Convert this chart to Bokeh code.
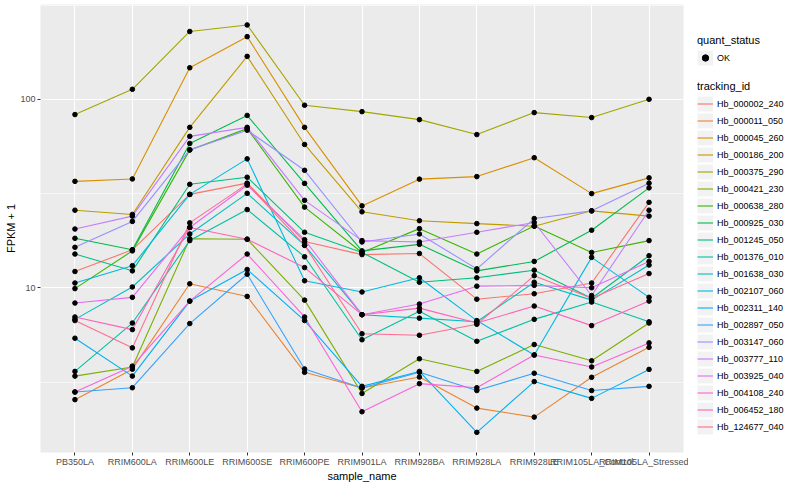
from bokeh.plotting import figure
from bokeh.models import (FactorRange, Range1d, FixedTicker, PrintfTickFormatter,
                          Legend, LegendItem)
from bokeh.layouts import row
from bokeh.embed import file_html
from bokeh.resources import INLINE

samples = ["PB350LA", "RRIM600LA", "RRIM600LE", "RRIM600SE", "RRIM600PE", "RRIM901LA",
           "RRIM928BA", "RRIM928LA", "RRIM928LE", "RRIM105LA_Control", "RRIM105LA_Stressed"]

Hb_000002_240 = [12.2, 15.9, 31.3, 35.9, 17.6, 15.0, 15.2, 8.7, 9.3, 10.6, 28.4]
Hb_000011_050 = [2.55, 3.7, 10.5, 9.0, 3.56, 2.94, 3.36, 2.3, 2.06, 3.35, 4.83]
Hb_000045_260 = [36.7, 37.8, 147, 215, 71, 27.2, 37.7, 38.9, 49, 31.6, 38.3]
Hb_000186_200 = [25.8, 24.5, 71, 169, 57.6, 25.3, 22.7, 21.9, 21.2, 25.6, 24.0]
Hb_000375_290 = [83, 113, 229, 248, 93, 86, 78, 65, 85, 80, 100]
Hb_000421_230 = [3.4, 3.8, 18.2, 18.1, 8.6, 2.75, 4.2, 3.6, 5.0, 4.1, 6.5]
Hb_000638_280 = [9.9, 15.7, 53.9, 69.9, 26.8, 15.4, 20.6, 15.1, 21.3, 15.4, 17.8]
Hb_000925_030 = [18.3, 15.9, 58.3, 82.1, 35.8, 15.7, 17.0, 12.3, 13.8, 20.2, 33.9]
Hb_001245_050 = [15.1, 12.3, 35.4, 38.6, 19.7, 15.4, 10.7, 11.3, 12.4, 8.8, 14.8]
Hb_001376_010 = [3.6, 6.5, 17.8, 26.0, 14.6, 5.3, 7.5, 5.2, 6.8, 8.4, 6.6]
Hb_001638_030 = [6.8, 10.1, 19.3, 31.7, 16.8, 7.2, 6.9, 6.6, 10.7, 8.6, 13.2]
Hb_002107_060 = [10.6, 13.1, 31.3, 48.3, 10.9, 9.5, 11.3, 6.7, 4.4, 14.5, 8.9]
Hb_002311_140 = [5.4, 3.4, 8.5, 12.5, 6.7, 3.0, 3.6, 1.71, 3.18, 2.59, 3.69]
Hb_002897_050 = [2.8, 2.95, 6.46, 11.8, 3.71, 2.94, 3.56, 2.85, 3.52, 2.85, 3.0]
Hb_003147_060 = [16.4, 22.5, 53.9, 68.5, 42.0, 17.5, 19.3, 12.6, 23.3, 25.6, 35.9]
Hb_003777_110 = [20.5, 24.0, 63.6, 71.0, 29.1, 17.8, 17.5, 19.7, 22.2, 9.1, 25.8]
Hb_003925_040 = [8.3, 8.9, 20.9, 35.0, 18.0, 7.2, 8.2, 10.2, 10.3, 10.0, 13.8]
Hb_004108_240 = [2.8, 3.84, 8.5, 15.1, 7.0, 2.2, 3.1, 2.95, 4.4, 3.8, 5.1]
Hb_006452_180 = [7.0, 6.0, 20.9, 18.1, 12.8, 7.2, 7.8, 6.5, 8.0, 6.3, 8.5]
Hb_124677_040 = [6.7, 4.8, 22.1, 35.6, 16.8, 5.7, 5.6, 6.4, 11.6, 8.8, 11.9]

tracking_ids = ["Hb_000002_240", "Hb_000011_050", "Hb_000045_260", "Hb_000186_200",
                "Hb_000375_290", "Hb_000421_230", "Hb_000638_280", "Hb_000925_030",
                "Hb_001245_050", "Hb_001376_010", "Hb_001638_030", "Hb_002107_060",
                "Hb_002311_140", "Hb_002897_050", "Hb_003147_060", "Hb_003777_110",
                "Hb_003925_040", "Hb_004108_240", "Hb_006452_180", "Hb_124677_040"]
series = [Hb_000002_240, Hb_000011_050, Hb_000045_260, Hb_000186_200, Hb_000375_290,
          Hb_000421_230, Hb_000638_280, Hb_000925_030, Hb_001245_050, Hb_001376_010,
          Hb_001638_030, Hb_002107_060, Hb_002311_140, Hb_002897_050, Hb_003147_060,
          Hb_003777_110, Hb_003925_040, Hb_004108_240, Hb_006452_180, Hb_124677_040]
palette = ["#F8766D", "#EA8331", "#D89000", "#C09B00", "#A3A500", "#7CAE00", "#39B600",
           "#00BB4E", "#00BF7D", "#00C1A3", "#00BFC4", "#00BAE0", "#00B0F6", "#35A2FF",
           "#9590FF", "#C77CFF", "#E76BF3", "#FA62DB", "#FF62BC", "#FF6C91"]
status = ["OK"]

FONT = "Liberation Sans"
H = 484
MAIN_W = 688
LEG_W = 96

p = figure(width=MAIN_W, height=H,
           x_range=FactorRange(factors=samples, range_padding=0.1, range_padding_units="absolute"),
           y_range=Range1d(1.337, 318.4), y_axis_type="log",
           toolbar_location=None, output_backend="svg",
           min_border_left=40, min_border_right=5, min_border_top=4, min_border_bottom=0,
           background_fill_color="#EBEBEB", border_fill_color="white", outline_line_color=None)

for ax in (p.xaxis[0], p.yaxis[0]):
    ax.axis_line_color = None
    ax.major_tick_line_color = "#333333"
    ax.major_tick_line_width = 1
    ax.major_tick_out = 3
    ax.major_tick_in = 0
    ax.minor_tick_line_color = None
    ax.major_label_text_font = FONT
    ax.major_label_text_font_size = "9px"
    ax.major_label_text_color = "#4D4D4D"
    ax.major_label_standoff = 1
    ax.axis_label_text_font = FONT
    ax.axis_label_text_font_size = "11px"
    ax.axis_label_text_font_style = "normal"
    ax.axis_label_text_color = "black"
    ax.axis_label_standoff = 0

p.xaxis.axis_label = "sample_name"
p.yaxis.axis_label = "FPKM + 1"
yt = FixedTicker(ticks=[10, 100], minor_ticks=[3.1623, 31.623, 316.23])
p.yaxis.ticker = yt
p.ygrid.ticker = yt
p.yaxis.formatter = PrintfTickFormatter(format="%d")

p.xgrid.grid_line_color = "white"
p.xgrid.grid_line_width = 1.1
p.ygrid.grid_line_color = "white"
p.ygrid.grid_line_width = 1.1
p.ygrid.minor_grid_line_color = "white"
p.ygrid.minor_grid_line_width = 0.55

for vals, col in zip(series, palette):
    p.line(x=samples, y=vals, line_color=col, line_width=1.1)

all_x = [s for vals in series for s in samples]
all_y = [v for vals in series for v in vals]
p.scatter(x=all_x, y=all_y, size=4.6, color="black")

# legend panel: key renderers carry the series values but fall outside this panel's ranges
lf = figure(width=LEG_W, height=H, x_range=Range1d(-2, -1), y_range=Range1d(-2, -1),
            toolbar_location=None, output_backend="svg",
            x_axis_location=None, y_axis_location=None,
            min_border=0, outline_line_color=None, background_fill_color="white",
            border_fill_color="white")
lf.grid.visible = False


def style(leg):
    leg.title_text_font = FONT
    leg.title_text_font_size = "11px"
    leg.title_text_font_style = "normal"
    leg.title_text_color = "black"
    leg.title_standoff = 3
    leg.label_text_font = FONT
    leg.label_text_font_size = "9px"
    leg.label_text_color = "black"
    leg.glyph_width = 16
    leg.glyph_height = 17
    leg.label_height = 17
    leg.label_standoff = 4
    leg.spacing = 0
    leg.padding = 0
    leg.margin = 0
    leg.border_line_color = None
    leg.background_fill_alpha = 0


q_bg = lf.line(x=Hb_000375_290, y=Hb_000375_290, line_color="#F2F2F2", line_width=15)
q_pt = lf.scatter(x=Hb_000375_290, y=Hb_000375_290, color="black", size=4.6)
leg_q = Legend(items=[LegendItem(label=status[0], renderers=[q_bg, q_pt])],
               title="quant_status", location=(9, 386))
style(leg_q)
lf.add_layout(leg_q)

items = []
for name, vals, col in zip(tracking_ids, series, palette):
    bg = lf.line(x=vals, y=vals, line_color="#F2F2F2", line_width=15)
    ln = lf.line(x=vals, y=vals, line_color=col, line_width=1.1)
    items.append(LegendItem(label=name, renderers=[bg, ln]))
leg_t = Legend(items=items, title="tracking_id", location=(9, 17))
style(leg_t)
lf.add_layout(leg_t)

layout = row(p, lf)
open("out.html", "w").write(file_html(layout, INLINE))
